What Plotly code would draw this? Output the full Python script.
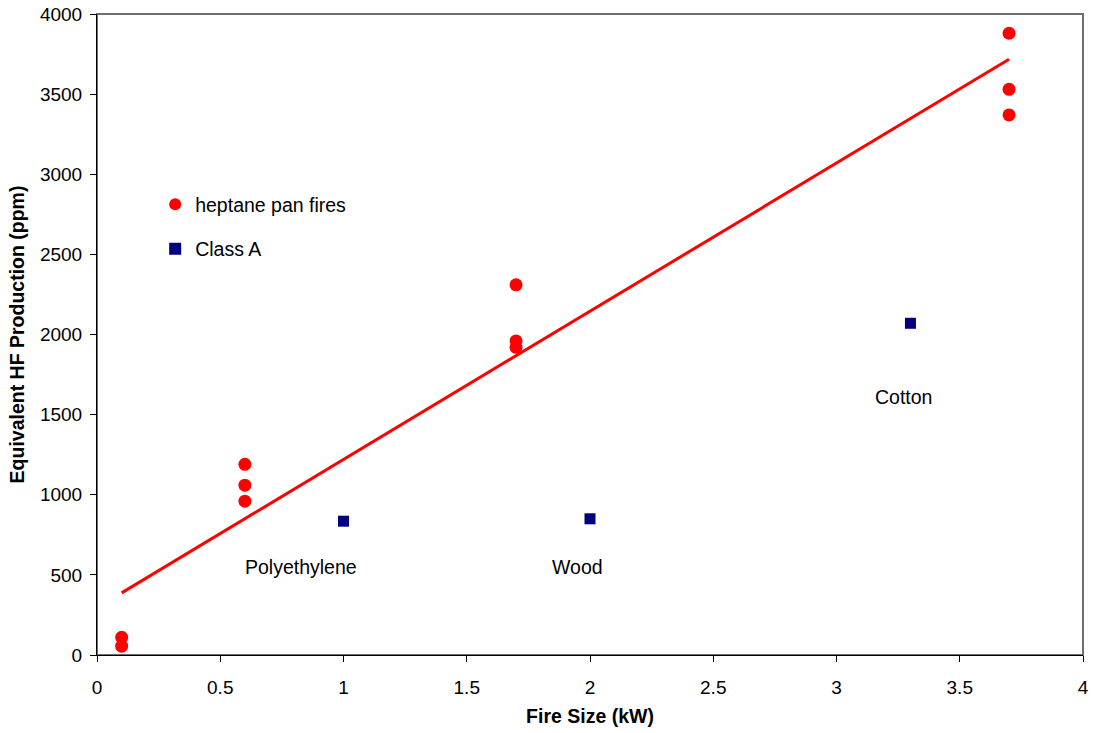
import plotly.graph_objects as go

# Heptane pan fires: fire size (kW) and equivalent HF production (ppm)
heptane_size = [0.1, 0.1, 0.6, 0.6, 0.6, 1.7, 1.7, 1.7, 3.7, 3.7, 3.7]
heptane_hf = [110, 55, 1190, 1060, 960, 2310, 1960, 1920, 3880, 3530, 3370]

# Class A fuels
classa_size = [1.0, 2.0, 3.3]
classa_hf = [835, 850, 2070]
classa_names = ["Polyethylene", "Wood", "Cotton"]
# label anchor positions for the class A fuels (kW, ppm)
label_x = [0.828, 1.951, 3.27]
label_y = [549, 549, 1610]

# Linear trend for heptane fires
trend_x = [0.1, 3.7]
trend_slope = 925.0
trend_intercept = 295.0
trend_y = [trend_slope * x + trend_intercept for x in trend_x]

FONT = "Liberation Sans, Arial, sans-serif"
FS = 19.5

fig = go.Figure()

fig.add_trace(go.Scatter(
    x=trend_x, y=trend_y, mode="lines",
    line=dict(color="#ff0000", width=3),
    showlegend=False, hoverinfo="skip",
))
fig.add_trace(go.Scatter(
    x=heptane_size, y=heptane_hf, mode="markers", name="heptane pan fires",
    legendgroup="heptane",
    marker=dict(symbol="circle", size=13, color="#ff0000"),
))
fig.add_trace(go.Scatter(
    x=classa_size, y=classa_hf, mode="markers", name="Class A",
    legendgroup="classa",
    marker=dict(symbol="square", size=11, color="#000080"),
))

for name, lx, ly in zip(classa_names, label_x, label_y):
    fig.add_annotation(x=lx, y=ly, text=name, showarrow=False,
                       xanchor="center", yanchor="middle",
                       font=dict(family=FONT, size=FS, color="black"))

# plot-area frame
fig.add_shape(type="rect", xref="paper", yref="paper", x0=0, y0=0, x1=1, y1=1,
              line=dict(color="#6e6e6e", width=2), layer="below")

fig.update_layout(
    width=1094, height=733,
    margin=dict(l=97, r=11, t=14, b=78),
    paper_bgcolor="white", plot_bgcolor="white",
    font=dict(family=FONT, size=FS, color="black"),
    legend=dict(x=0.059, y=0.733, xanchor="left", yanchor="top",
                bgcolor="rgba(0,0,0,0)", tracegroupgap=16,
                font=dict(family=FONT, size=FS, color="black"),
                itemsizing="constant"),
    xaxis=dict(
        range=[0, 4], tickmode="linear", tick0=0, dtick=0.5,
        showgrid=False, zeroline=False, automargin=False,
        showline=True, linecolor="black", linewidth=1,
        ticks="outside", ticklen=6, tickcolor="black",
        ticklabelstandoff=9,
        tickfont=dict(family=FONT, size=19),
        title=dict(text="<b>Fire Size (kW)</b>", standoff=12,
                   font=dict(family=FONT, size=FS)),
    ),
    yaxis=dict(
        range=[0, 4000], tickmode="linear", tick0=0, dtick=500,
        showgrid=False, zeroline=False, automargin=False,
        showline=True, linecolor="black", linewidth=1,
        ticks="outside", ticklen=6, tickcolor="black",
        ticklabelstandoff=4,
        tickfont=dict(family=FONT, size=19),
        title=dict(text="<b>Equivalent HF Production (ppm)</b>", standoff=10,
                   font=dict(family=FONT, size=FS)),
    ),
)

fig.write_html("out.html")
